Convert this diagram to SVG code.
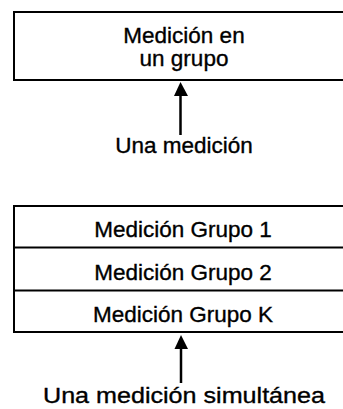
<svg xmlns="http://www.w3.org/2000/svg" width="343" height="409" viewBox="0 0 343 409">
<style>
.box{fill:#fff;stroke:#000;stroke-width:2}
.ln{stroke:#000;stroke-width:2;fill:none}
.t{font-family:"Liberation Sans",Arial,sans-serif;font-size:22.5px;fill:#000;stroke:#000;stroke-width:0.35;text-anchor:middle}
.arr{stroke:#000;stroke-width:2.5;fill:none}
.head{fill:#000}
</style>
<rect width="343" height="409" fill="#fff"/>
<g id="node-top">
<rect class="box" x="14" y="12" width="335" height="68"/>
<text class="t" x="184" y="43">Medición en</text>
<text class="t" x="184" y="66">un grupo</text>
</g>
<g id="node-bottom">
<rect class="box" x="14" y="206" width="335" height="126"/>
<line class="ln" x1="14" y1="247.5" x2="343" y2="247.5"/>
<line class="ln" x1="14" y1="290.5" x2="343" y2="290.5"/>
<text class="t" x="183" y="237">Medición Grupo 1</text>
<text class="t" x="183" y="279.5">Medición Grupo 2</text>
<text class="t" x="183" y="322">Medición Grupo K</text>
</g>
<g id="label-una">
<text class="t" x="184" y="153">Una medición</text>
</g>
<g id="label-simul">
<text class="t" x="184" y="403" textLength="282" lengthAdjust="spacingAndGlyphs">Una medición simultánea</text>
</g>
<g id="connectors">
<line class="arr" x1="180.5" y1="94" x2="180.5" y2="135"/>
<polygon class="head" points="180.5,82 174,96 188,96"/>
<line class="arr" x1="181" y1="348" x2="181" y2="383"/>
<polygon class="head" points="181,335 174.5,349 188,349"/>
</g>
</svg>
